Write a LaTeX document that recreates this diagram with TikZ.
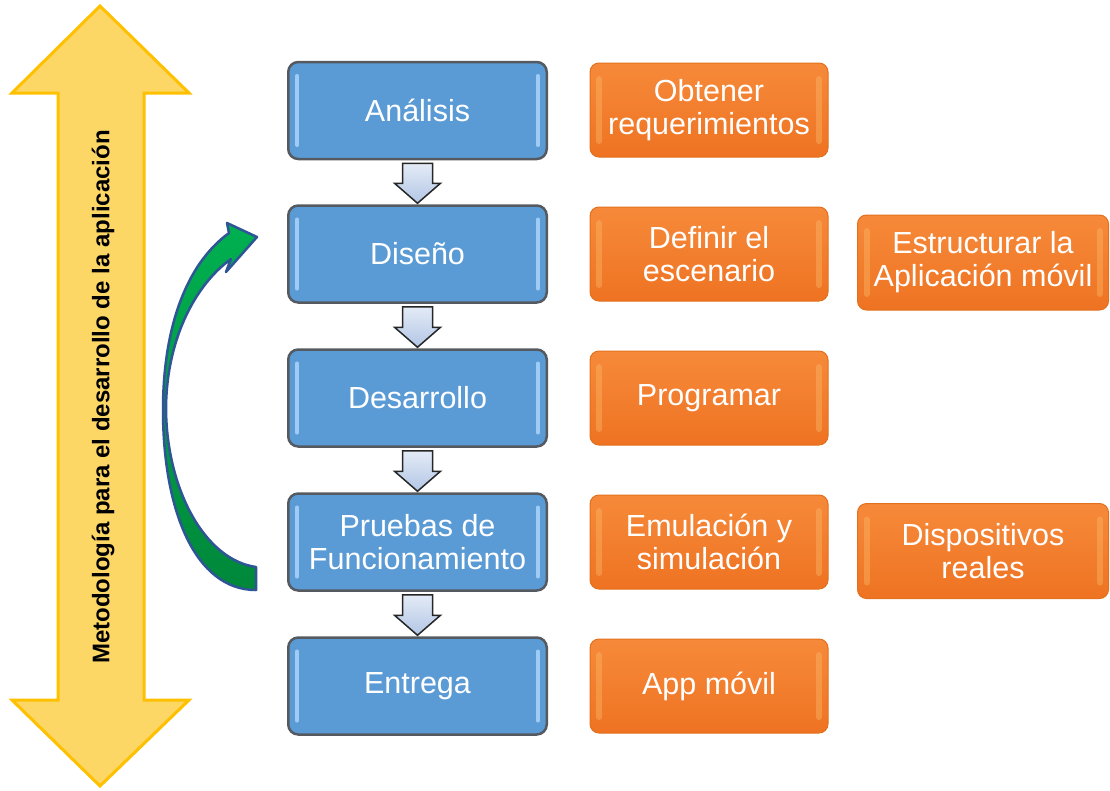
\documentclass[tikz,border=0pt]{standalone}
\usepackage{fontspec}
\setmainfont{Liberation Sans}
\usetikzlibrary{calc}
\definecolor{boxblue}{HTML}{5B9BD5}
\definecolor{boxedge}{HTML}{555A60}
\definecolor{hiblue}{HTML}{B8DCFF}
\definecolor{orTop}{HTML}{F68A3A}
\definecolor{orBot}{HTML}{EE7322}
\definecolor{orEdge}{HTML}{E2701E}
\definecolor{orHi}{HTML}{FAB463}
\definecolor{yelFill}{HTML}{FDD766}
\definecolor{yelEdge}{HTML}{FFC000}
\definecolor{grTop}{HTML}{00B050}
\definecolor{grBot}{HTML}{00883A}
\definecolor{grEdge}{HTML}{2F5597}
\definecolor{arTop}{HTML}{E3EBF6}
\definecolor{arBot}{HTML}{B3C6E5}
\begin{document}
\begin{tikzpicture}[x=1pt,y=-1pt,
  bluebox/.style={rectangle, rounded corners=10pt, fill=boxblue, draw=boxedge,
    line width=2.5pt, minimum width=258.5pt, minimum height=97pt, text=white,
    font=\fontsize{30.5}{33}\selectfont, align=center, inner sep=0pt,
    path picture={
      \draw[line width=4pt, line cap=round, hiblue, opacity=0.75]
        ([xshift=9pt,yshift=-14pt]path picture bounding box.north west) --
        ([xshift=9pt,yshift=14pt]path picture bounding box.south west);
      \draw[line width=4pt, line cap=round, hiblue, opacity=0.75]
        ([xshift=-9pt,yshift=-14pt]path picture bounding box.north east) --
        ([xshift=-9pt,yshift=14pt]path picture bounding box.south east);
    }},
  orangebox/.style={rectangle, rounded corners=9pt, top color=orTop, bottom color=orBot,
    draw=orEdge, line width=1pt, minimum height=94pt, text=white,
    font=\fontsize{30.5}{33}\selectfont, align=center, inner sep=0pt,
    path picture={
      \draw[line width=6pt, line cap=round, orHi, opacity=0.45]
        ([xshift=9pt,yshift=-16pt]path picture bounding box.north west) --
        ([xshift=9pt,yshift=16pt]path picture bounding box.south west);
      \draw[line width=6pt, line cap=round, orHi, opacity=0.45]
        ([xshift=-9pt,yshift=-16pt]path picture bounding box.north east) --
        ([xshift=-9pt,yshift=16pt]path picture bounding box.south east);
    }},
  smallarr/.style={top color=arTop, bottom color=arBot, draw=black!85, line width=1.5pt, line join=miter},
  bigarr/.style={fill=yelFill, draw=yelEdge, line width=3pt, line join=miter},
  loopback/.style={top color=grTop, bottom color=grBot, draw=grEdge, line width=2.5pt, line join=round}
]
\useasboundingbox (0,0) rectangle (1110,790);

% big yellow double arrow
\path[bigarr] (100,6) -- (189,93) -- (144,93) -- (144,700) -- (189,700) -- (100,786)
  -- (12,700) -- (58,700) -- (58,93) -- (12,93) -- cycle;
\node[rotate=90, font=\bfseries\fontsize{24}{26}\selectfont] (meth) at (103,397)
  {Metodología para el desarrollo de la aplicación};

% blue process boxes
\node[bluebox] (ana) at (417.5,110.5) {Análisis};
\node[bluebox] (dis) at (417.5,254) {Diseño};
\node[bluebox] (des) at (417.5,398) {Desarrollo};
\node[bluebox] (pru) at (417.5,542) {Pruebas de\\Funcionamiento};
\node[bluebox] (ent) at (417.5,686) {Entrega};

% orange activity boxes
\node[orangebox, minimum width=238pt] (o1) at (709,110) {Obtener\\requerimientos};
\node[orangebox, minimum width=238pt] (o2) at (709,254) {Definir el\\escenario};
\node[orangebox, minimum width=238pt] (o3) at (709,398) {Programar};
\node[orangebox, minimum width=238pt] (o4) at (709,542) {Emulación y\\simulación};
\node[orangebox, minimum width=238pt] (o5) at (709,686) {App móvil};
\node[orangebox, minimum width=251pt, minimum height=95pt] (r1) at (983,262.5) {Estructurar la\\Aplicación móvil};
\node[orangebox, minimum width=251pt, minimum height=95pt] (r2) at (983,551) {Dispositivos\\reales};

% small down arrows between process boxes
\newcommand\stepdownarrow[2]{%
  \path[smallarr] let \p1=(#1.south), \p2=(#2.north) in
    (\x1-15pt,\y1-3pt) -- (\x1+15pt,\y1-3pt) -- (\x1+15pt,\y2+21pt) -- (\x1+23pt,\y2+21pt)
    -- (\x1,\y2+1pt) -- (\x1-23pt,\y2+21pt) -- (\x1-15pt,\y2+21pt) -- cycle;}
\stepdownarrow{ana}{dis}
\stepdownarrow{dis}{des}
\stepdownarrow{des}{pru}
\stepdownarrow{pru}{ent}

% green curved loop-back arrow
\path[loopback] (256,590) -- (256,567)
  .. controls (205,560) and (167,490) .. (166,410)
  .. controls (166,340) and (195,285) .. (231,259)
  -- (226,272) -- (257,237) -- (227,223) -- (229,233)
  .. controls (185,265) and (163,330) .. (163,410)
  .. controls (163,510) and (195,590) .. (256,590) -- cycle;
\end{tikzpicture}
\end{document}
